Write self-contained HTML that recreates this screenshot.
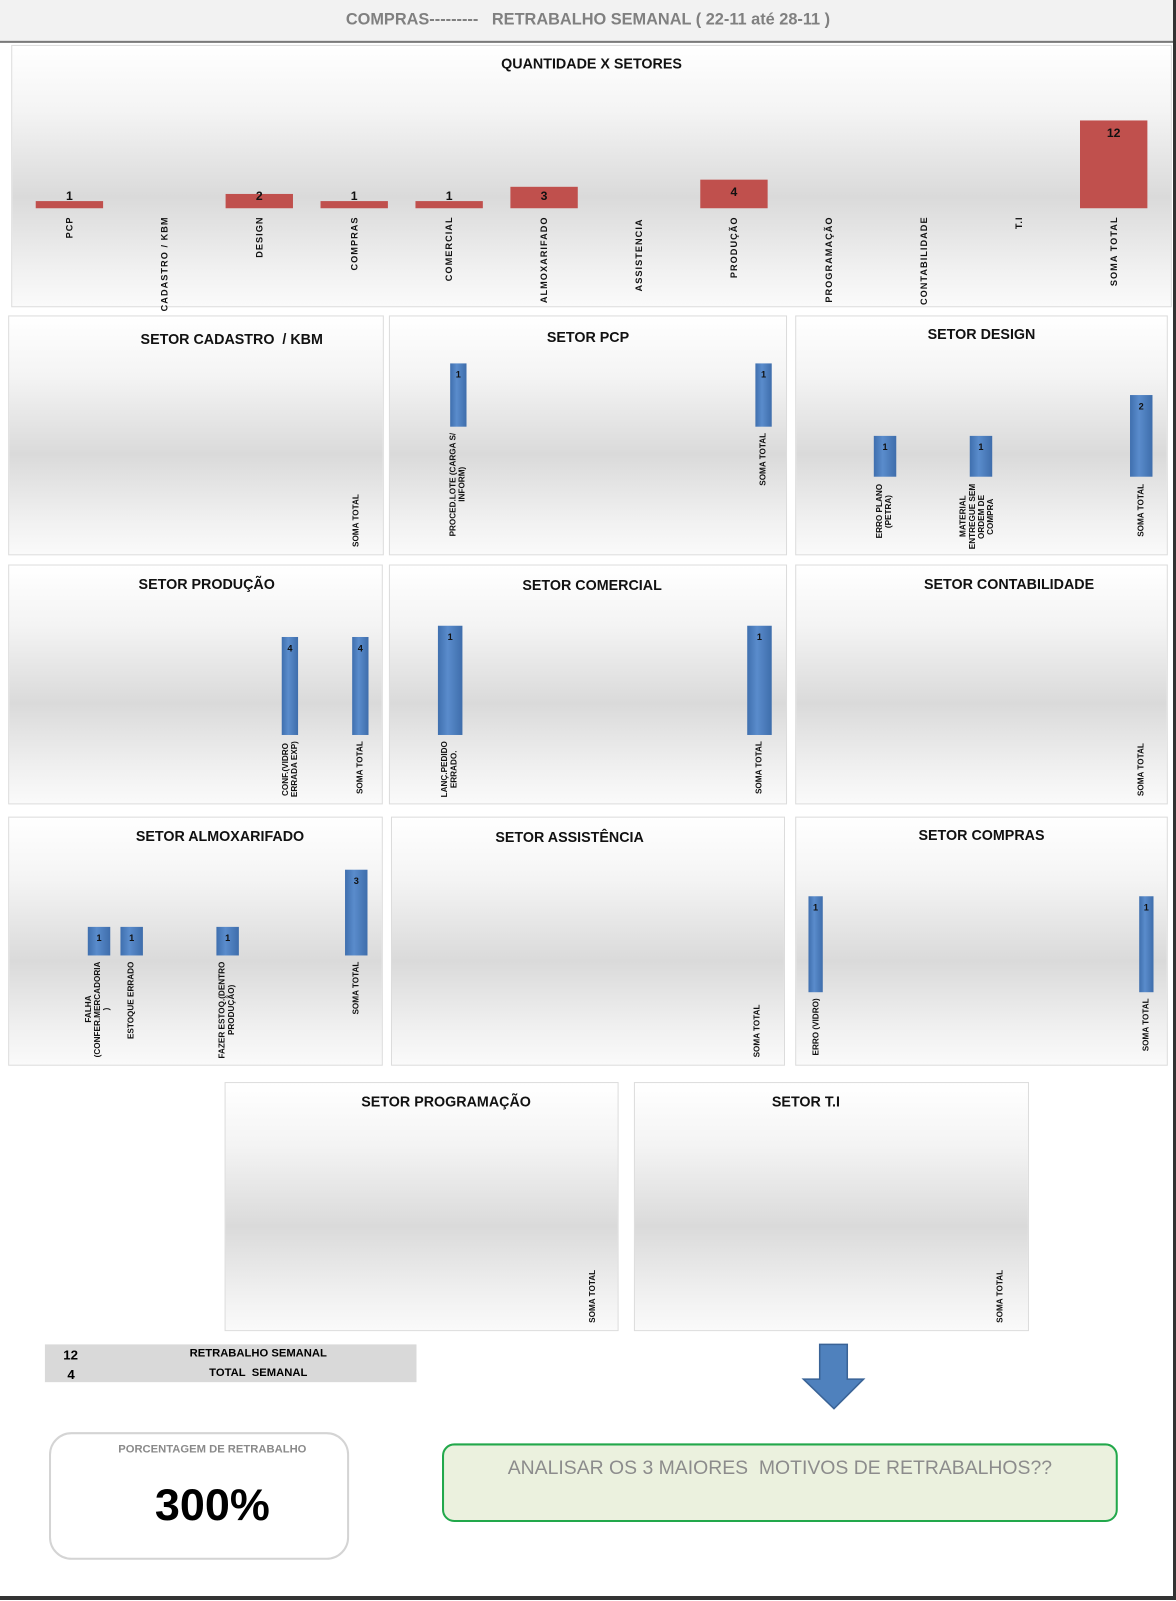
<!DOCTYPE html>
<html><head><meta charset="utf-8"><style>
body{margin:0;width:1176px;height:1600px;position:relative;background:#fff;font-family:"Liberation Sans",sans-serif;overflow:hidden}
#w{position:absolute;left:0;top:0;width:1152px;height:1568px;transform:scale(1.0208);transform-origin:0 0}
.a{position:absolute}
.p{position:absolute;border:1px solid #dcdcdc;background:linear-gradient(#fff 0%,#f4f4f4 25%,#dadada 58%,#f0f0f0 85%,#fafafa 100%);box-sizing:border-box}
.t{position:absolute;left:0;right:0;text-align:center;font-weight:bold;font-size:14px;color:#111}
.v{position:absolute;writing-mode:vertical-rl;transform:rotate(180deg);font-weight:bold;font-size:8px;line-height:9px;color:#111;white-space:nowrap;text-align:center}
.b{position:absolute;background:linear-gradient(90deg,#3f6fae,#5a8ccc 40%,#3e6dab);}
.r{position:absolute;background:#c0504d}
.n{position:absolute;font-weight:bold;font-size:9px;color:#111;text-align:center;width:20px}
.rn{position:absolute;font-weight:bold;font-size:12px;color:#111;text-align:center;width:30px}
.tv{position:absolute;writing-mode:vertical-rl;transform:rotate(180deg);font-weight:bold;font-size:9px;letter-spacing:1px;color:#111;white-space:nowrap;line-height:10px}
</style></head><body>
<div id="w">
<div class="a" style="left:0;top:0;width:1152px;height:40px;background:#f2f2f2;border-bottom:2px solid #7a7a7a"></div>
<div class="a" style="left:0;top:11px;width:1152px;text-align:center;font-weight:bold;font-size:16px;color:#808080">COMPRAS---------&nbsp;&nbsp;&nbsp;RETRABALHO SEMANAL ( 22-11 até 28-11 )</div>

<div class="p" style="left:11px;top:44px;width:1137px;height:257px"><div class="t" style="top:9px">QUANTIDADE X SETORES</div></div>
<div class="r" style="left:35px;top:197px;width:66px;height:7px"></div><div class="rn" style="left:53px;top:185px">1</div>
<div class="r" style="left:221px;top:190px;width:66px;height:14px"></div><div class="rn" style="left:239px;top:185px">2</div>
<div class="r" style="left:314px;top:197px;width:66px;height:7px"></div><div class="rn" style="left:332px;top:185px">1</div>
<div class="r" style="left:407px;top:197px;width:66px;height:7px"></div><div class="rn" style="left:425px;top:185px">1</div>
<div class="r" style="left:500px;top:183px;width:66px;height:21px"></div><div class="rn" style="left:518px;top:185px">3</div>
<div class="r" style="left:686px;top:176px;width:66px;height:28px"></div><div class="rn" style="left:704px;top:181px">4</div>
<div class="r" style="left:1058px;top:118px;width:66px;height:86px"></div><div class="rn" style="left:1076px;top:123px">12</div>
<div class="tv" style="left:63px;top:212px">PCP</div>
<div class="tv" style="left:156px;top:212px">CADASTRO / KBM</div>
<div class="tv" style="left:249px;top:212px">DESIGN</div>
<div class="tv" style="left:342px;top:212px">COMPRAS</div>
<div class="tv" style="left:435px;top:212px">COMERCIAL</div>
<div class="tv" style="left:528px;top:212px">ALMOXARIFADO</div>
<div class="tv" style="left:621px;top:214px">ASSISTENCIA</div>
<div class="tv" style="left:714px;top:212px">PRODUÇÃO</div>
<div class="tv" style="left:807px;top:212px">PROGRAMAÇÃO</div>
<div class="tv" style="left:900px;top:212px">CONTABILIDADE</div>
<div class="tv" style="left:993px;top:212px">T.I</div>
<div class="tv" style="left:1086px;top:212px">SOMA TOTAL</div>

<div class="p" style="left:8px;top:309px;width:368px;height:235px"><div class="t" style="top:14px;left:70px">SETOR CADASTRO&nbsp; / KBM</div></div>
<div class="v" style="left:344px;top:484px">SOMA TOTAL</div>
<div class="p" style="left:381px;top:309px;width:390px;height:235px"><div class="t" style="top:12px">SETOR PCP</div></div>
<div class="b" style="left:441px;top:356px;width:16px;height:62px"></div><div class="n" style="left:439px;top:362px">1</div>
<div class="b" style="left:740px;top:356px;width:16px;height:62px"></div><div class="n" style="left:738px;top:362px">1</div>
<div class="v" style="left:439px;top:424px">PROCED.LOTE (CARGA S/<br>INFORM)</div>
<div class="v" style="left:743px;top:424px">SOMA TOTAL</div>
<div class="p" style="left:779px;top:309px;width:365px;height:235px"><div class="t" style="top:9px">SETOR DESIGN</div></div>
<div class="b" style="left:856px;top:427px;width:22px;height:40px"></div><div class="n" style="left:857px;top:433px">1</div>
<div class="b" style="left:950px;top:427px;width:22px;height:40px"></div><div class="n" style="left:951px;top:433px">1</div>
<div class="b" style="left:1107px;top:387px;width:22px;height:80px"></div><div class="n" style="left:1108px;top:393px">2</div>
<div class="v" style="left:857px;top:474px">ERRO PLANO<br>(PETRA)</div>
<div class="v" style="left:939px;top:474px">MATERIAL<br>ENTREGUE SEM<br>ORDEM DE<br>COMPRA</div>
<div class="v" style="left:1113px;top:474px">SOMA TOTAL</div>

<div class="p" style="left:8px;top:553px;width:367px;height:235px"><div class="t" style="top:10px;left:22px">SETOR PRODUÇÃO</div></div>
<div class="b" style="left:276px;top:624px;width:16px;height:96px"></div><div class="n" style="left:274px;top:630px">4</div>
<div class="b" style="left:345px;top:624px;width:16px;height:96px"></div><div class="n" style="left:343px;top:630px">4</div>
<div class="v" style="left:275px;top:726px">CONF.(VIDRO<br>ERRADA EXP)</div>
<div class="v" style="left:348px;top:726px">SOMA TOTAL</div>
<div class="p" style="left:381px;top:553px;width:390px;height:235px"><div class="t" style="top:11px;left:8px">SETOR COMERCIAL</div></div>
<div class="b" style="left:429px;top:613px;width:24px;height:107px"></div><div class="n" style="left:431px;top:619px">1</div>
<div class="b" style="left:732px;top:613px;width:24px;height:107px"></div><div class="n" style="left:734px;top:619px">1</div>
<div class="v" style="left:431px;top:726px">LANÇ.PEDIDO<br>ERRADO.</div>
<div class="v" style="left:739px;top:726px">SOMA TOTAL</div>
<div class="p" style="left:779px;top:553px;width:365px;height:235px"><div class="t" style="top:10px;left:54px">SETOR CONTABILIDADE</div></div>
<div class="v" style="left:1113px;top:728px">SOMA TOTAL</div>

<div class="p" style="left:8px;top:800px;width:367px;height:244px"><div class="t" style="top:10px;left:48px">SETOR ALMOXARIFADO</div></div>
<div class="b" style="left:86px;top:908px;width:22px;height:28px"></div><div class="n" style="left:87px;top:914px">1</div>
<div class="b" style="left:118px;top:908px;width:22px;height:28px"></div><div class="n" style="left:119px;top:914px">1</div>
<div class="b" style="left:212px;top:908px;width:22px;height:28px"></div><div class="n" style="left:213px;top:914px">1</div>
<div class="b" style="left:338px;top:852px;width:22px;height:84px"></div><div class="n" style="left:339px;top:858px">3</div>
<div class="v" style="left:82px;top:942px">FALHA<br>(CONFER.MERCADORIA<br>)</div>
<div class="v" style="left:124px;top:942px">ESTOQUE ERRADO</div>
<div class="v" style="left:213px;top:942px">FAZER ESTOQ.(DENTRO<br>PRODUÇÃO)</div>
<div class="v" style="left:344px;top:942px">SOMA TOTAL</div>
<div class="p" style="left:383px;top:800px;width:386px;height:244px"><div class="t" style="top:11px;left:-36px">SETOR ASSISTÊNCIA</div></div>
<div class="v" style="left:737px;top:984px">SOMA TOTAL</div>
<div class="p" style="left:779px;top:800px;width:365px;height:244px"><div class="t" style="top:9px">SETOR COMPRAS</div></div>
<div class="b" style="left:792px;top:878px;width:14px;height:94px"></div><div class="n" style="left:789px;top:884px">1</div>
<div class="b" style="left:1116px;top:878px;width:14px;height:94px"></div><div class="n" style="left:1113px;top:884px">1</div>
<div class="v" style="left:795px;top:978px">ERRO (VIDRO)</div>
<div class="v" style="left:1118px;top:978px">SOMA TOTAL</div>

<div class="p" style="left:220px;top:1060px;width:386px;height:244px"><div class="t" style="top:10px;left:48px">SETOR PROGRAMAÇÃO</div></div>
<div class="v" style="left:576px;top:1244px">SOMA TOTAL</div>
<div class="p" style="left:621px;top:1060px;width:387px;height:244px"><div class="t" style="top:10px;left:-50px">SETOR T.I</div></div>
<div class="v" style="left:975px;top:1244px">SOMA TOTAL</div>

<div class="a" style="left:44px;top:1317px;width:364px;height:37px;background:#d9d9d9"></div>
<div class="a" style="left:62px;top:1320px;font-weight:bold;font-size:13px">12</div>
<div class="a" style="left:66px;top:1339px;font-weight:bold;font-size:13px">4</div>
<div class="a" style="left:150px;top:1320px;width:206px;text-align:center;font-weight:bold;font-size:11px">RETRABALHO SEMANAL</div>
<div class="a" style="left:150px;top:1339px;width:206px;text-align:center;font-weight:bold;font-size:11px">TOTAL&nbsp; SEMANAL</div>
<svg class="a" style="left:784px;top:1315px" width="66" height="68"><path d="M19 2H46V36H62L33 65L3 36H19Z" fill="#4f81bd" stroke="#3a6396" stroke-width="1.5"/></svg>
<div class="a" style="left:48px;top:1403px;width:294px;height:125px;box-sizing:border-box;border:2px solid #d4d4d4;border-radius:22px;background:#fff"></div>
<div class="a" style="left:48px;top:1414px;width:320px;text-align:center;font-weight:bold;font-size:11px;color:#8a8a8a">PORCENTAGEM DE RETRABALHO</div>
<div class="a" style="left:48px;top:1450px;width:320px;text-align:center;font-weight:bold;font-size:44px;color:#000">300%</div>
<div class="a" style="left:433px;top:1414px;width:662px;height:77px;box-sizing:border-box;border:2px solid #22a84b;border-radius:12px;background:#ebf1de"></div>
<div class="a" style="left:433px;top:1428px;width:662px;text-align:center;font-size:19px;color:#8c8c8c">ANALISAR OS 3 MAIORES&nbsp; MOTIVOS DE RETRABALHOS??</div>
</div>
<div class="a" style="left:1173px;top:0;width:3px;height:1600px;background:#333"></div>
<div class="a" style="left:0;top:1596px;width:1176px;height:4px;background:#333"></div>
</body></html>
